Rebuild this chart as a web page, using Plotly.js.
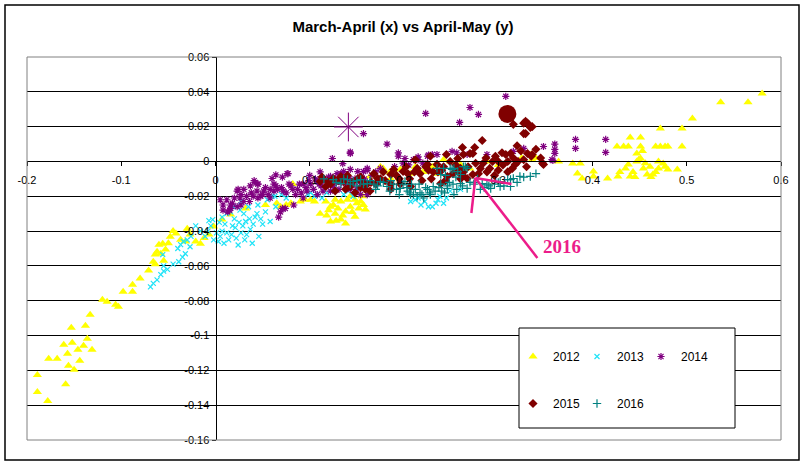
<!DOCTYPE html>
<html>
<head>
<meta charset="utf-8">
<script src="https://cdn.plot.ly/plotly-3.0.1.min.js"></script>
<style>html,body{margin:0;padding:0;background:#fff;}#chart{width:806px;height:467px;}</style>
</head>
<body>
<div id="chart"></div>
<script>
// ---- data ----
const seriesNames = ["2012", "2013", "2014", "2015", "2016"];

const pts2012 = [
[-0.189,-0.1226],[-0.189,-0.1324],[-0.178,-0.1376],[-0.177,-0.1134],[-0.168,-0.1134],[-0.159,-0.128],[-0.156,-0.1174],[-0.150,-0.1197],[-0.157,-0.1105],[-0.161,-0.1053],[-0.153,-0.0955],[-0.152,-0.1042],[-0.146,-0.1082],[-0.144,-0.1145],[-0.138,-0.0944],[-0.136,-0.1019],[-0.140,-0.1059],[-0.131,-0.1082],[-0.133,-0.0881],[-0.120,-0.0794],[-0.115,-0.0806],[-0.106,-0.0823],[-0.103,-0.0835],[-0.098,-0.0748],[-0.088,-0.0748],[-0.088,-0.0708],[-0.080,-0.0673],[-0.071,-0.0627],[-0.066,-0.0576],[-0.064,-0.0535],[-0.062,-0.0518],[-0.060,-0.0478],[-0.056,-0.0472],[-0.048,-0.0432],[-0.042,-0.0414],[-0.030,-0.0386],[-0.016,-0.0472],[-0.007,-0.042],[-0.002,-0.0374],[-0.058,-0.053],[-0.053,-0.0506],[-0.064,-0.059],[-0.037,-0.045],[-0.021,-0.046],[-0.032,-0.046],[0.016,-0.0305],[0.032,-0.027],[0.007,-0.0334],
[-0.045,-0.040],[-0.027,-0.042],[-0.012,-0.044],[-0.050,-0.047],[-0.055,-0.057],
[0.117,-0.023],[0.122,-0.026],[0.127,-0.030],[0.133,-0.0334],[0.138,-0.0288],[0.143,-0.026],[0.148,-0.0317],[0.154,-0.023],[0.159,-0.0276],[0.133,-0.023],[0.122,-0.0345],[0.138,-0.0357],[0.148,-0.022],[0.111,-0.030],[0.143,-0.020],[0.156,-0.020],[0.127,-0.022],[0.080,-0.024],[0.090,-0.023],[0.101,-0.022],[0.069,-0.026],[0.053,-0.025],[0.130,-0.027],[0.152,-0.027],[0.118,-0.031],
[0.125,-0.025],[0.135,-0.031],[0.145,-0.029],[0.150,-0.024],[0.140,-0.022],[0.120,-0.028],[0.128,-0.034],[0.157,-0.025],[0.065,-0.024],[0.075,-0.025],[0.095,-0.022],[0.105,-0.023],
[0.242,0.001],[0.249,0],[0.260,-0.0017],[0.228,-0.0046],[0.235,-0.007],[0.288,0],[0.336,0.001],[0.196,-0.0046],[0.207,-0.007],[0.175,-0.003],[0.164,-0.0086],[0.186,-0.010],[0.082,-0.013],[0.230,-0.003],[0.270,-0.004],[0.300,-0.002],[0.325,0.002],
[0.178,-0.004],[0.185,-0.006],[0.212,-0.003],[0.220,-0.006],[0.335,0.004],[0.340,0.002],
[0.364,0],[0.379,-0.0012],[0.387,-0.0012],[0.384,-0.0069],[0.389,-0.0098],[0.401,-0.0058],[0.401,-0.0086],[0.416,-0.0098],[0.427,-0.0086],[0.435,-0.004],[0.440,-0.0086],[0.438,-0.0017],[0.447,0],[0.451,0.0017],[0.447,0.0046],[0.454,-0.004],[0.458,-0.0075],[0.464,-0.0075],[0.470,-0.004],[0.470,0],[0.475,-0.0012],[0.480,-0.0046],[0.490,-0.0046],[0.426,0.0086],[0.433,0.0086],[0.438,0.0086],[0.440,0.0138],[0.451,0.0138],[0.451,0.0086],[0.467,0.0086],[0.472,0.0086],[0.477,0.0086],[0.480,0.0086],[0.495,0.0086],[0.472,0.019],[0.495,0.019],[0.506,0.0247],[0.536,0.034],[0.565,0.034],[0.580,0.039],[0.456,-0.001],[0.461,-0.003],[0.443,-0.006],[0.467,-0.006],[0.429,-0.006],[0.453,0.006],[0.449,0.001],[0.477,-0.003],[0.445,-0.009],[0.462,-0.009]
];

const pts2013 = [
[-0.066,-0.070],[-0.062,-0.068],[-0.058,-0.065],[-0.055,-0.063],[-0.051,-0.062],[-0.045,-0.059],[-0.039,-0.0576],[-0.035,-0.055],[-0.056,-0.0535],[-0.032,-0.053],[-0.027,-0.049],[-0.037,-0.0478],[-0.030,-0.045],[-0.069,-0.072],[-0.055,-0.060],[-0.040,-0.050],[-0.034,-0.046],[-0.026,-0.043],
[-0.011,-0.043],[-0.005,-0.037],[0.003,-0.046],[0.007,-0.040],[0.014,-0.045],[0.018,-0.037],[0.024,-0.048],[0.027,-0.041],[0.032,-0.0345],[0.037,-0.039],[0.042,-0.032],[0.046,-0.043],[0.050,-0.036],[0.053,-0.029],[0.035,-0.026],[0.027,-0.023],[0.016,-0.029],[0.007,-0.032],[-0.003,-0.0334],[-0.016,-0.040],[-0.021,-0.037],[0.058,-0.0345],[0.064,-0.026],[0.039,-0.047],[0.022,-0.044],[0.010,-0.036],[0.030,-0.030],[0.045,-0.025],[0.001,-0.041],[0.020,-0.033],
[-0.008,-0.040],[-0.002,-0.045],[0.005,-0.043],[0.009,-0.047],[0.012,-0.041],[0.017,-0.042],[0.021,-0.038],[0.025,-0.035],[0.029,-0.037],[0.033,-0.042],[0.036,-0.033],[0.040,-0.036],[0.044,-0.030],[0.048,-0.033],[0.012,-0.030],[0.019,-0.026],[0.026,-0.028],[0.004,-0.035],[-0.007,-0.034],[0.031,-0.045],
[0.055,-0.022],[0.063,-0.020],[0.101,-0.018],[0.113,-0.021],[0.136,-0.019],[0.146,-0.020],[0.207,-0.023],[0.218,-0.025],[0.230,-0.026],[0.242,-0.024],[0.226,-0.026],[0.249,-0.017],[0.260,-0.016],[0.215,-0.021],[0.236,-0.022],[0.141,-0.017],[0.108,-0.019],
[0.060,-0.020],[0.070,-0.019],[0.075,-0.021],[0.098,-0.019],[0.105,-0.020],[0.118,-0.018],[0.212,-0.022],[0.222,-0.023],[0.234,-0.024],[0.238,-0.020],[0.245,-0.021]
];

const pts2014 = [
[0.008,-0.025],[0.015,-0.028],[0.023,-0.026],[0.023,-0.017],[0.030,-0.016],[0.037,-0.014],[0.045,-0.013],[0.051,-0.017],[0.058,-0.016],[0.066,-0.016],[0.072,-0.017],[0.080,-0.014],[0.087,-0.016],[0.093,-0.013],[0.101,-0.013],[0.108,-0.0115],[0.115,-0.010],[0.122,-0.0086],[0.129,-0.007],[0.136,-0.0058],[0.143,-0.0046],[0.151,-0.0058],[0.157,-0.0058],[0.161,-0.004],
[0.016,-0.027],[0.030,-0.023],[0.045,-0.021],[0.058,-0.021],[0.069,-0.029],[0.067,-0.032],[0.074,-0.027],[0.083,-0.025],[0.093,-0.021],[0.108,-0.019],[0.122,-0.017],[0.143,-0.016],[0.154,-0.019],[0.161,-0.019],
[0.060,-0.0098],[0.071,-0.009],[0.077,-0.007],[0.124,0.0017],[0.135,-0.0012],[0.143,0.0046],[0.157,0.016],[0.133,-0.007],[0.182,0.010],[0.194,0.003],[0.201,0.0017],[0.027,-0.019],[0.045,-0.013],[0.076,-0.007],[0.016,-0.025],[0.008,-0.028],
[0.223,0.0276],[0.259,0.0224],[0.270,0.031],[0.308,0.0374],[0.279,0.027],[0.288,0.004],[0.316,0.0058],[0.327,0.0075],[0.348,0.0086],[0.360,0.010],[0.360,0.0069],[0.360,0.0046],[0.357,0.001],[0.230,0.004],[0.235,0.004],[0.225,0.003],[0.251,0.0058],[0.256,0.005],[0.267,0.004],[0.215,0.001],[0.210,0.001],[0.199,-0.001],[0.170,-0.006],[0.161,-0.005],[0.382,0.0127],[0.382,0.0075],[0.414,0.0127],[0.414,0.0052],[0.358,0.0006],
[0.138,-0.0086],[0.148,-0.010],[0.040,-0.020],[0.050,-0.019],[0.062,-0.013],[0.085,-0.019],[0.097,-0.017],[0.112,-0.014],[0.128,-0.012],[0.005,-0.022],[0.020,-0.021],[0.175,-0.004],[0.190,-0.003],[0.205,-0.002],[0.220,-0.001],
[0.012,-0.022],[0.018,-0.024],[0.026,-0.021],[0.033,-0.020],[0.038,-0.018],[0.044,-0.017],[0.048,-0.020],[0.053,-0.015],[0.056,-0.019],[0.062,-0.017],[0.064,-0.014],[0.070,-0.015],[0.075,-0.018],[0.078,-0.013],[0.082,-0.016],[0.089,-0.013],[0.091,-0.018],[0.096,-0.015],[0.099,-0.011],[0.104,-0.016],[0.106,-0.010],[0.110,-0.013],[0.114,-0.017],[0.118,-0.012],[0.120,-0.009],[0.125,-0.014],[0.127,-0.010],[0.131,-0.016],[0.134,-0.012],[0.139,-0.014],[0.142,-0.010],[0.146,-0.013],[0.150,-0.016],[0.153,-0.012],[0.158,-0.010],[0.036,-0.023],[0.027,-0.025],[0.013,-0.029],[0.041,-0.011],[0.100,-0.008],[0.111,-0.006],[0.166,-0.008],[0.172,-0.012],
[0.143,0.0054],[0.194,0.0049],[0.215,0.0026],[0.226,0.0037],[0.064,-0.0077],[0.042,-0.012],[0.024,-0.016],[0.071,-0.027]
];

const pts2015 = [
[0.154,-0.009],[0.165,-0.012],[0.175,-0.010],[0.186,-0.013],[0.154,-0.015],[0.189,-0.0046],[0.204,-0.007],[0.217,-0.007],[0.223,-0.003],[0.235,-0.0017],[0.246,-0.0086],[0.257,-0.0058],[0.260,-0.004],[0.263,0.004],[0.273,0.0046],[0.281,-0.004],[0.279,-0.007],[0.284,-0.001],[0.283,0.012],[0.294,0],[0.300,0],[0.310,0],[0.308,0.004],[0.310,-0.006],[0.315,-0.004],[0.318,-0.0017],[0.321,0],[0.327,0.001],[0.336,0.004],[0.347,-0.001],[0.316,0.0213],[0.327,0.016],[0.332,0.0213],[0.327,0.022],[0.331,0.022],[0.334,0.0196],
[0.119,-0.0115],[0.125,-0.0098],[0.136,-0.0115],[0.151,-0.0098],[0.161,-0.013],[0.172,-0.0098],[0.186,-0.0075],[0.199,-0.0058],[0.214,-0.004],[0.225,-0.0017],[0.231,-0.006],[0.249,0],[0.257,0.0017],[0.263,-0.006],[0.270,0.0046],[0.273,-0.0075],[0.267,-0.0098],
[0.143,-0.0144],[0.164,-0.017],[0.186,-0.016],[0.207,-0.0144],[0.239,-0.0127],[0.260,-0.010],
[0.117,-0.0144],[0.127,-0.017],[0.138,-0.016],[0.148,-0.018],[0.159,-0.016],[0.111,-0.0115],[0.133,-0.0086],
[0.313,0.0046],[0.331,0.0046],[0.335,0.003],[0.348,-0.0017],[0.329,0.023],[0.336,0.020],[0.329,0.016],[0.195,-0.010],[0.240,-0.005],[0.300,-0.005],
[0.113,-0.009],[0.122,-0.013],[0.130,-0.011],[0.140,-0.008],[0.145,-0.012],[0.156,-0.012],[0.168,-0.007],[0.170,-0.013],[0.178,-0.006],[0.180,-0.011],[0.192,-0.008],[0.196,-0.013],[0.202,-0.003],[0.206,-0.010],[0.211,-0.006],[0.219,-0.011],[0.226,-0.005],[0.229,-0.010],[0.236,-0.006],[0.242,-0.003],[0.244,-0.011],[0.252,-0.007],[0.255,-0.002],[0.262,-0.008],[0.268,-0.003],[0.276,-0.001],[0.287,0.002],[0.291,-0.004],[0.297,0.003],[0.305,-0.002],[0.316,0.002],[0.324,0.006],[0.330,-0.003],[0.212,0.001],[0.228,0.003],[0.245,0.004],[0.262,0.008],[0.275,0.008],[0.304,0.005],[0.320,0.009],[0.340,0.007],[0.345,0.002],[0.288,-0.006],[0.296,-0.008]
];

const pts2016 = [
[0.125,-0.0104],[0.133,-0.0127],[0.140,-0.0104],[0.146,-0.0115],[0.154,-0.0104],[0.161,-0.0127],[0.168,-0.013],[0.175,-0.0115],[0.182,-0.0144],[0.189,-0.013],[0.196,-0.0155],[0.204,-0.017],[0.210,-0.019],[0.217,-0.018],[0.225,-0.016],[0.231,-0.0144],[0.239,-0.013],[0.246,-0.0155],[0.252,-0.013],[0.260,-0.0127],[0.267,-0.0155],[0.235,-0.004],[0.242,-0.004],[0.249,-0.004],[0.257,-0.0058],[0.263,-0.003],[0.207,-0.019],[0.214,-0.020],[0.221,-0.021],[0.201,-0.0115],[0.208,-0.013],
[0.239,-0.0075],[0.246,-0.014],[0.253,-0.019],[0.260,-0.0075],[0.275,-0.012],[0.290,-0.014],[0.300,-0.012],[0.310,-0.0104],[0.316,-0.0098],[0.323,-0.0086],[0.334,-0.0086],[0.288,-0.013],[0.302,-0.0144],[0.313,-0.0144],[0.274,-0.013],[0.281,-0.016],[0.267,-0.004],[0.253,-0.004],
[0.251,-0.0046],[0.265,-0.003],[0.283,-0.0127],[0.292,-0.0155],[0.302,-0.0115],[0.313,-0.0104],
[0.115,-0.010],[0.185,-0.017],[0.195,-0.019],[0.170,-0.016],[0.150,-0.014],[0.228,-0.019],[0.240,-0.017],
[0.128,-0.012],[0.136,-0.010],[0.143,-0.013],[0.150,-0.011],[0.157,-0.013],[0.164,-0.011],[0.172,-0.014],[0.178,-0.012],[0.186,-0.011],[0.192,-0.016],[0.199,-0.013],[0.203,-0.015],[0.206,-0.018],[0.212,-0.016],[0.216,-0.013],[0.219,-0.019],[0.223,-0.015],[0.227,-0.018],[0.233,-0.017],[0.237,-0.015],[0.243,-0.018],[0.248,-0.012],[0.256,-0.016],[0.262,-0.014],[0.270,-0.012],[0.278,-0.010],[0.285,-0.015],[0.296,-0.013],[0.306,-0.014],[0.320,-0.012],[0.327,-0.009],[0.340,-0.007],[0.244,-0.008],[0.255,-0.009]
];

// highlighted (enlarged) points
const highlight2014 = [[0.141, 0.0198]];
const highlight2015 = [[0.3097, 0.0273]];

// arrow pointing at 2016, and its label
const arrowTail = [0.3415, -0.0554];
const arrowTip = [0.2757, -0.0095];
const arrowArm1 = [0.2715, -0.0296];
const arrowArm2 = [0.3139, -0.0129];
const arrowLabel = {text: "2016", x: 0.3674, y: -0.0488};

// ticks
const xTickVals = [-0.2, -0.1, 0, 0.1, 0.2, 0.3, 0.4, 0.5, 0.6];
const xTickText = ["-0.2", "-0.1", "0", "0.1", "0.2", "0.3", "0.4", "0.5", "0.6"];
const yTickVals = [0.06, 0.04, 0.02, 0, -0.02, -0.04, -0.06, -0.08, -0.1, -0.12, -0.14, -0.16];
const yTickText = ["0.06", "0.04", "0.02", "0", "-0.02", "-0.04", "-0.06", "-0.08", "-0.1", "-0.12", "-0.14", "-0.16"];

// ---- styling ----
const colors = ["#FFFF00", "#1FE3F7", "#800080", "#800000", "#008080"];
const FONT = "Liberation Sans, Arial, sans-serif";
const PINK = "#EC1C8A";

function xs(p) { return p.map(d => d[0]); }
function ys(p) { return p.map(d => d[1]); }

const traces = [
  {x: xs(pts2012), y: ys(pts2012), name: seriesNames[0], type: "scatter", mode: "markers", legend: "legend", legendgroup: "g2012",
   marker: {symbol: "triangle-up", size: 8, color: colors[0], line: {width: 0}}},
  {x: xs(pts2013), y: ys(pts2013), name: seriesNames[1], type: "scatter", mode: "markers", legend: "legend2", legendgroup: "g2013",
   marker: {symbol: "x-thin-open", size: 5, color: colors[1], line: {width: 1.2, color: colors[1]}}},
  {x: xs(pts2014), y: ys(pts2014), name: seriesNames[2], type: "scatter", mode: "markers", legend: "legend3", legendgroup: "g2014",
   marker: {symbol: "asterisk-open", size: 6, color: colors[2], line: {width: 1.2, color: colors[2]}}},
  {x: xs(highlight2014), y: ys(highlight2014), name: seriesNames[2], type: "scatter", mode: "markers", showlegend: false,
   marker: {symbol: "asterisk-open", size: 24, color: colors[2], line: {width: 1, color: colors[2]}}},
  {x: xs(pts2015), y: ys(pts2015), name: seriesNames[3], type: "scatter", mode: "markers", legend: "legend", legendgroup: "g2015",
   marker: {symbol: "diamond", size: 7, color: colors[3], line: {width: 0}}},
  {x: xs(highlight2015), y: ys(highlight2015), name: seriesNames[3], type: "scatter", mode: "markers", showlegend: false,
   marker: {symbol: "circle", size: 18, color: colors[3], line: {width: 0}}},
  {x: xs(pts2016), y: ys(pts2016), name: seriesNames[4], type: "scatter", mode: "markers", legend: "legend2", legendgroup: "g2016",
   marker: {symbol: "cross-thin-open", size: 6, color: colors[4], line: {width: 1.2, color: colors[4]}}}
];

const L = 27, R = 25, T = 57, B = 27, W = 806, H = 467;
const pw = W - L - R, ph = H - T - B;
function px2paperX(px) { return (px - L) / pw; }
function px2paperY(py) { return (H - B - py) / ph; }

const legendCommon = {
  orientation: "v", xanchor: "left", yanchor: "top",
  bgcolor: "rgba(0,0,0,0)", borderwidth: 0,
  font: {family: FONT, size: 12, color: "#000"},
  tracegroupgap: 28, traceorder: "grouped"
};

const layout = {
  width: W, height: H,
  margin: {l: L, r: R, t: T, b: B, pad: 0},
  paper_bgcolor: "#fff", plot_bgcolor: "#fff",
  title: {text: "March-April (x) vs April-May (y)", x: 0.5, xanchor: "center", y: 1 - 27 / H, yanchor: "middle",
          font: {family: FONT, size: 15, color: "#000", weight: "bold"}},
  xaxis: {range: [-0.2, 0.6], anchor: "free", position: (0 - -0.16) / 0.22,
          tickmode: "array", tickvals: xTickVals, ticktext: xTickText,
          ticks: "outside", ticklen: 4, tickcolor: "#000", tickwidth: 1,
          showline: true, linecolor: "#000", linewidth: 1, showgrid: false, zeroline: false,
          tickfont: {family: FONT, size: 11, color: "#000"}, ticklabelstandoff: 4, fixedrange: true},
  yaxis: {range: [-0.16, 0.06], anchor: "free", position: (0 - -0.2) / 0.8,
          tickmode: "array", tickvals: yTickVals, ticktext: yTickText,
          ticks: "outside", ticklen: 4, tickcolor: "#000", tickwidth: 1,
          showline: true, linecolor: "#000", linewidth: 1,
          showgrid: true, gridcolor: "#000", gridwidth: 1, zeroline: false,
          tickfont: {family: FONT, size: 11, color: "#000"}, fixedrange: true},
  showlegend: true,
  legend: Object.assign({}, legendCommon, {x: px2paperX(513), y: px2paperY(342)}),
  legend2: Object.assign({}, legendCommon, {x: px2paperX(577), y: px2paperY(342)}),
  legend3: Object.assign({}, legendCommon, {x: px2paperX(641), y: px2paperY(342)}),
  shapes: [
    {type: "rect", xref: "paper", yref: "paper", x0: 0, x1: 1, y0: 0, y1: 1,
     line: {color: "#808080", width: 1}, layer: "above"},
    {type: "rect", xref: "paper", yref: "paper", x0: px2paperX(5), x1: px2paperX(799), y0: px2paperY(460), y1: px2paperY(5),
     line: {color: "#000", width: 1.5}, layer: "above"},
    {type: "rect", xref: "paper", yref: "paper", x0: px2paperX(519), x1: px2paperX(735), y0: px2paperY(428), y1: px2paperY(328),
     line: {color: "#000", width: 1}, fillcolor: "#fff", layer: "above"},
    {type: "line", xref: "x", yref: "y", x0: arrowTail[0], y0: arrowTail[1], x1: arrowTip[0], y1: arrowTip[1],
     line: {color: PINK, width: 2.5}, layer: "above"},
    {type: "line", xref: "x", yref: "y", x0: arrowTip[0], y0: arrowTip[1], x1: arrowArm1[0], y1: arrowArm1[1],
     line: {color: PINK, width: 2.5}, layer: "above"},
    {type: "line", xref: "x", yref: "y", x0: arrowTip[0], y0: arrowTip[1], x1: arrowArm2[0], y1: arrowArm2[1],
     line: {color: PINK, width: 2.5}, layer: "above"}
  ],
  annotations: [
    {text: arrowLabel.text, x: arrowLabel.x, y: arrowLabel.y, xref: "x", yref: "y", showarrow: false,
     font: {family: "Liberation Serif, Times New Roman, serif", size: 19, color: PINK, weight: "bold"}}
  ]
};

Plotly.newPlot("chart", traces, layout, {staticPlot: true, displayModeBar: false});
</script>
</body>
</html>
